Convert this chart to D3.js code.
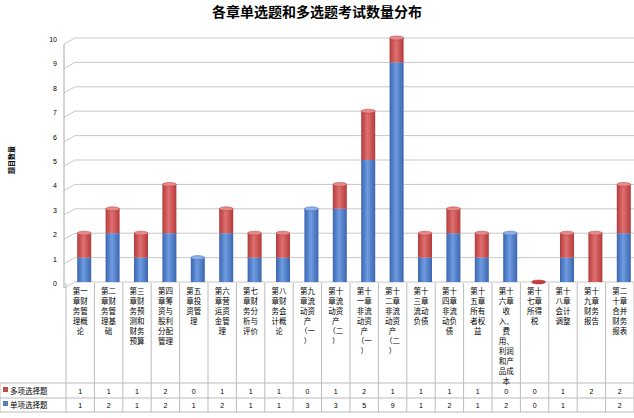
<!DOCTYPE html><html><head><meta charset="utf-8"><script src="https://cdn.jsdelivr.net/npm/d3@7"></script>
<style>body{margin:0;background:#fff}svg{font-family:"Noto Sans CJK SC",sans-serif}</style></head><body><svg id="c" width="634" height="418"></svg><script>
const categories=["第一章财务管理概论","第二章财务管理基础","第三章财务预测和财务预算","第四章筹资与股利分配管理","第五章投资管理","第六章营运资金管理","第七章财务分析与评价","第八章财务会计概论","第九章流动资产（一）","第十章流动资产（二）","第十一章非流动资产（一）","第十二章非流动资产（二）","第十三章流动负债","第十四章非流动负债","第十五章所有者权益","第十六章收入、费用、利润和产品成本","第十七章所得税","第十八章会计调整","第十九章财务报告","第二十章合并财务报表"];
const labelLines=[["第一","章财","务管","理概","论"],["第二","章财","务管","理基","础"],["第三","章财","务预","测和","财务","预算"],["第四","章筹","资与","股利","分配","管理"],["第五","章投","资管","理"],["第六","章营","运资","金管","理"],["第七","章财","务分","析与","评价"],["第八","章财","务会","计概","论"],["第九","章流","动资","产","（一","）"],["第十","章流","动资","产","（二","）"],["第十","一章","非流","动资","产","（一","）"],["第十","二章","非流","动资","产","（二","）"],["第十","三章","流动","负债"],["第十","四章","非流","动负","债"],["第十","五章","所有","者权","益"],["第十","六章","收","入、","费","用、","利润","和产","品成","本"],["第十","七章","所得","税"],["第十","八章","会计","调整"],["第十","九章","财务","报告"],["第二","十章","合并","财务","报表"]];
const multi=[1,1,1,2,0,1,1,1,0,1,2,1,1,1,1,0,0,1,2,2];
const single=[1,2,1,2,1,2,1,1,3,3,5,9,1,2,1,2,0,1,0,2];
const singleText=["1","2","1","2","1","2","1","1","3","3","5","9","1","2","1","2","0","1","","2"];
const yTicks=[0,1,2,3,4,5,6,7,8,9,10];
const svg=d3.select("#c");
const x=d3.scaleBand().domain(d3.range(20)).range([66,634]);
const y=d3.scaleLinear().domain([0,10]).range([282,38]);
const defs=svg.append("defs");
function grad(id,c1,c2){const g=defs.append("linearGradient").attr("id",id);g.append("stop").attr("offset","0%").attr("stop-color",c2);g.append("stop").attr("offset","45%").attr("stop-color",c1);g.append("stop").attr("offset","100%").attr("stop-color",c2);}
grad("gb","#6f9be0","#3a66b0");grad("gr","#e07070","#b43a3a");
svg.append("text").attr("x",317).attr("y",17).attr("text-anchor","middle").attr("font-size",14).attr("font-weight","bold").text("各章单选题和多选题考试数量分布");
yTicks.forEach(t=>{svg.append("path").attr("d",`M64,${y(t)+6}L75,${y(t)}L634,${y(t)}`).attr("fill","none").attr("stroke","#c8c8c8");
svg.append("text").attr("x",57).attr("y",y(t)+4).attr("text-anchor","end").attr("font-size",7).attr("font-family","Liberation Sans").text(t);});
svg.append("line").attr("x1",64).attr("x2",64).attr("y1",44).attr("y2",288).attr("stroke","#aaa");
svg.append("text").attr("transform","translate(14,160) rotate(-90)").attr("text-anchor","middle").attr("font-size",7).attr("font-weight","bold").text("题目数量");
const bw=14;
d3.range(20).forEach(i=>{const cx=x(i)+x.bandwidth()/2+4;
 const s=single[i],m=multi[i];
 if(s>0){svg.append("rect").attr("x",cx-bw/2).attr("y",y(s)).attr("width",bw).attr("height",y(0)-y(s)).attr("fill","url(#gb)");}
 if(m>0){svg.append("rect").attr("x",cx-bw/2).attr("y",y(s+m)).attr("width",bw).attr("height",y(s)-y(s+m)).attr("fill","url(#gr)");}
 const top=s+m;
 svg.append("ellipse").attr("cx",cx).attr("cy",y(top)).attr("rx",bw/2).attr("ry",2).attr("fill",top===0?"#c04040":(m>0?"#e58a8a":"#8fb0e8")).attr("stroke",m>0||top===0?"#b03030":"#3a66b0").attr("stroke-width",0.5);
});
// table
const tl=283,tr1=383,tr2=398,tb=412;
const g=svg.append("g").attr("stroke","#bbb");
g.append("line").attr("x1",0).attr("x2",634).attr("y1",tr1).attr("y2",tr1);
g.append("line").attr("x1",0).attr("x2",634).attr("y1",tr2).attr("y2",tr2);
g.append("line").attr("x1",0).attr("x2",634).attr("y1",tb).attr("y2",tb);
g.append("line").attr("x1",0).attr("x2",0).attr("y1",tr1).attr("y2",tb);
d3.range(21).forEach(i=>{const xx=i<20?x(i):634;g.append("line").attr("x1",xx).attr("x2",xx).attr("y1",tl).attr("y2",tb);});
d3.range(20).forEach(i=>{const cx=x(i)+x.bandwidth()/2;
 labelLines[i].forEach((l,k)=>svg.append("text").attr("x",cx).attr("y",294+k*10).attr("text-anchor","middle").attr("font-size",7.5).text(l));
 svg.append("text").attr("x",cx).attr("y",394).attr("text-anchor","middle").attr("font-size",7).attr("font-family","Liberation Sans").text(multi[i]);
 svg.append("text").attr("x",cx).attr("y",408).attr("text-anchor","middle").attr("font-size",7).attr("font-family","Liberation Sans").text(singleText[i]);
});
svg.append("rect").attr("x",3).attr("y",387).attr("width",5).attr("height",5).attr("fill","#c0504d");
svg.append("text").attr("x",10).attr("y",394).attr("font-size",7.5).text("多项选择题");
svg.append("rect").attr("x",3).attr("y",401).attr("width",5).attr("height",5).attr("fill","#4f81bd");
svg.append("text").attr("x",10).attr("y",408).attr("font-size",7.5).text("单项选择题");
</script></body></html>
